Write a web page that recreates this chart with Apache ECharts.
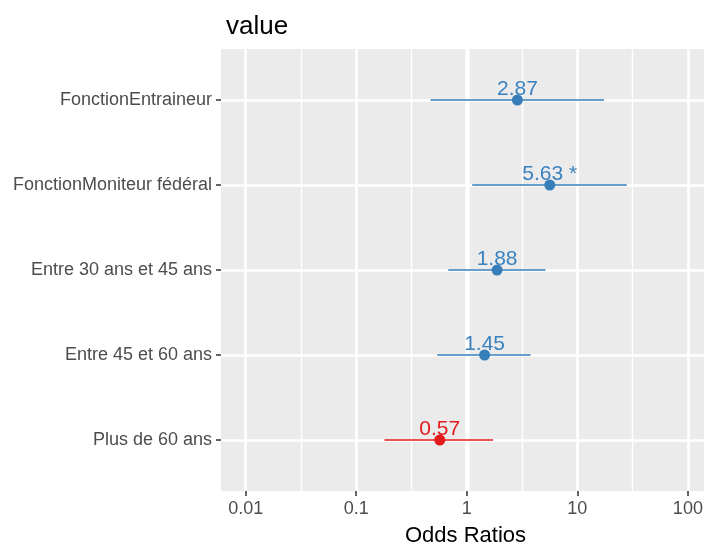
<!DOCTYPE html>
<html>
<head>
<meta charset="utf-8">
<script src="https://cdn.jsdelivr.net/npm/echarts@6/dist/echarts.min.js"></script>
<style>html,body{margin:0;padding:0;background:#fff}#c{width:704px;height:546px}</style>
</head>
<body>
<div id="c"></div>
<script>
const categories = ['FonctionEntraineur', 'FonctionMoniteur fédéral', 'Entre 30 ans et 45 ans', 'Entre 45 et 60 ans', 'Plus de 60 ans'];
const estimates = [2.87, 5.63, 1.88, 1.45, 0.57];
const ciLow = [0.47, 1.12, 0.68, 0.54, 0.18];
const ciHigh = [17.4, 28.0, 5.15, 3.77, 1.73];
const valueLabels = ['2.87', '5.63 *', '1.88', '1.45', '0.57'];
const positive = [true, true, true, true, false];
const tickValues = [0.01, 0.1, 1, 10, 100];
const tickLabels = ['0.01', '0.1', '1', '10', '100'];
const minorBreaks = [0.0316, 0.316, 3.16, 31.6];

const BLUE = '#377EB8', RED = '#E41A1C';
const FONT = '"Liberation Sans", Arial, sans-serif';
const lg = v => Math.log10(v);
const rows = categories.map((c, i) => i + 1);

const chart = echarts.init(document.getElementById('c'), null, {renderer: 'canvas'});

const gridLines = [];
tickValues.forEach(v => gridLines.push({xAxis: lg(v), lineStyle: {width: 2.6}}));
minorBreaks.forEach(v => gridLines.push({xAxis: lg(v), lineStyle: {width: 1.4}}));
rows.forEach(r => gridLines.push({yAxis: r, lineStyle: {width: 2.6}}));
gridLines.push({xAxis: 0, lineStyle: {width: 4.5}});

chart.setOption({
  animation: false,
  textStyle: {fontFamily: FONT},
  title: {
    text: 'value', left: 221, top: 9,
    textStyle: {fontSize: 26, fontWeight: 'normal', color: '#000', fontFamily: FONT}
  },
  grid: {
    left: 221, top: 49, width: 489, height: 442,
    outerBoundsMode: 'none', containLabel: false,
    show: true, backgroundColor: '#EBEBEB', borderWidth: 0
  },
  xAxis: {
    type: 'value', min: -2.223, max: 2.2,
    axisLine: {show: false, onZero: false},
    splitLine: {show: false},
    axisTick: {show: true, customValues: tickValues.map(lg), length: 5, lineStyle: {color: '#333', width: 1.5}},
    axisLabel: {
      customValues: tickValues.map(lg), margin: 9, fontSize: 18, color: '#4D4D4D', fontFamily: FONT,
      hideOverlap: false,
      formatter: v => tickLabels[tickValues.findIndex(t => Math.abs(lg(t) - v) < 1e-6)]
    },
    name: 'Odds Ratios', nameLocation: 'middle', nameGap: 34,
    nameTextStyle: {fontSize: 22, color: '#000', fontFamily: FONT}
  },
  yAxis: {
    type: 'value', min: 0.4, max: 5.6, inverse: true,
    axisLine: {show: false, onZero: false},
    splitLine: {show: false},
    axisTick: {show: true, customValues: rows, length: 5, lineStyle: {color: '#333', width: 1.5}},
    axisLabel: {
      customValues: rows, margin: 9, fontSize: 18, color: '#4D4D4D', fontFamily: FONT,
      formatter: v => categories[Math.round(v) - 1]
    }
  },
  series: [
    {
      type: 'line', z: 1, silent: true, showSymbol: false,
      data: [[0, 3]], lineStyle: {opacity: 0},
      markLine: {
        z: 0, silent: true, symbol: ['none', 'none'], animation: false,
        label: {show: false},
        lineStyle: {color: '#FFFFFF', type: 'solid'},
        data: gridLines
      }
    },
    {
      type: 'custom', z: 10, silent: true,
      data: categories.map((c, i) => [lg(ciLow[i]), lg(ciHigh[i]), rows[i], positive[i] ? 1 : 0]),
      encode: {x: [0, 1], y: 2},
      renderItem: (params, api) => {
        const a = api.coord([api.value(0), api.value(2)]);
        const b = api.coord([api.value(1), api.value(2)]);
        return {
          type: 'line',
          shape: {x1: a[0], y1: a[1], x2: b[0], y2: b[1]},
          style: {stroke: api.value(3) ? BLUE : RED, lineWidth: 1.6}
        };
      }
    },
    {
      type: 'scatter', z: 11, silent: true,
      symbol: 'circle', symbolSize: 11,
      itemStyle: {opacity: 1},
      data: categories.map((c, i) => ({
        value: [lg(estimates[i]), rows[i]],
        itemStyle: {color: positive[i] ? BLUE : RED, opacity: 1},
        label: {color: positive[i] ? '#3A82C0' : '#E41A1C'}
      })),
      label: {
        show: true, position: 'inside', offset: [0, -11],
        fontSize: 21, fontFamily: FONT,
        formatter: p => valueLabels[p.dataIndex]
      }
    }
  ]
});
</script>
</body>
</html>
